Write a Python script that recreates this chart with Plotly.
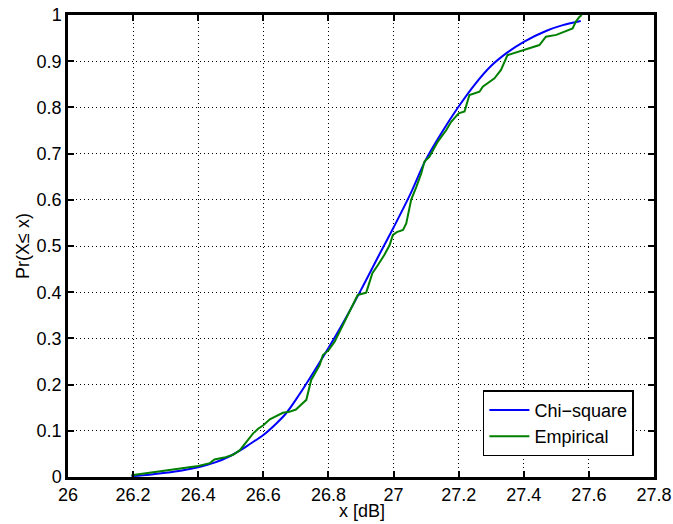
import plotly.graph_objects as go

# Chi-square CDF
chi_x = [26.195, 26.25, 26.3, 26.35, 26.4, 26.45, 26.5, 26.53, 26.56, 26.6, 26.64, 26.67, 26.71, 26.75,
         26.8, 26.85, 26.9, 26.95, 27.0, 27.05, 27.1, 27.15, 27.2, 27.25, 27.3, 27.35, 27.4, 27.47, 27.52, 27.575]
chi_y = [0.002, 0.005, 0.009, 0.014, 0.021, 0.031, 0.046, 0.058, 0.072, 0.091, 0.116, 0.138, 0.178, 0.222,
         0.279, 0.340, 0.405, 0.473, 0.540, 0.610, 0.688, 0.748, 0.802, 0.850, 0.890, 0.919, 0.942, 0.966, 0.978, 0.987]

# Empirical CDF
emp_x = [26.195, 26.25, 26.303, 26.35, 26.4, 26.436, 26.45, 26.48, 26.507, 26.528, 26.548, 26.568, 26.585, 26.6,
         26.62, 26.64, 26.66, 26.68, 26.7, 26.715, 26.732, 26.747, 26.773, 26.783, 26.8, 26.819, 26.84, 26.86,
         26.875, 26.89, 26.916, 26.935, 26.952, 26.972, 26.988, 26.998, 27.01, 27.029, 27.039, 27.054, 27.07,
         27.085, 27.095, 27.11, 27.136, 27.162, 27.177, 27.2, 27.218, 27.233, 27.264, 27.274, 27.31, 27.33,
         27.35, 27.397, 27.417, 27.448, 27.468, 27.5, 27.55, 27.56, 27.57, 27.578]
emp_y = [0.004, 0.009, 0.015, 0.019, 0.024, 0.03, 0.038, 0.042, 0.048, 0.058, 0.076, 0.094, 0.105, 0.112,
         0.125, 0.132, 0.139, 0.141, 0.146, 0.156, 0.167, 0.21, 0.242, 0.264, 0.274, 0.293, 0.322, 0.35,
         0.372, 0.394, 0.399, 0.441, 0.459, 0.481, 0.502, 0.524, 0.53, 0.535, 0.549, 0.6, 0.628,
         0.657, 0.683, 0.693, 0.726, 0.751, 0.769, 0.787, 0.791, 0.827, 0.834, 0.845, 0.863, 0.881,
         0.913, 0.923, 0.928, 0.935, 0.953, 0.957, 0.971, 0.986, 0.995, 1.0]

x_ticks = [26, 26.2, 26.4, 26.6, 26.8, 27, 27.2, 27.4, 27.6, 27.8]
x_labels = ["26", "26.2", "26.4", "26.6", "26.8", "27", "27.2", "27.4", "27.6", "27.8"]
y_ticks = [0, 0.1, 0.2, 0.3, 0.4, 0.5, 0.6, 0.7, 0.8, 0.9, 1]
y_labels = ["0", "0.1", "0.2", "0.3", "0.4", "0.5", "0.6", "0.7", "0.8", "0.9", "1"]
x_title = "x [dB]"
y_title = "Pr(X\u2264 x)"

fig = go.Figure()
fig.add_trace(go.Scatter(x=chi_x, y=chi_y, mode="lines", name="Chi\u2212square",
                         line=dict(color="#0000FF", width=2, shape="spline")))
fig.add_trace(go.Scatter(x=emp_x, y=emp_y, mode="lines", name="Empirical",
                         line=dict(color="#008000", width=2)))

font = dict(family="Liberation Sans, Arial, sans-serif", size=18, color="black")
axis_common = dict(showline=True, linecolor="black", linewidth=2.5, mirror="ticks",
                   ticks="inside", ticklen=6, tickcolor="black", tickwidth=1.5,
                   showgrid=True, gridcolor="black", gridwidth=1.2, griddash="1px,3px",
                   zeroline=False, tickfont=font, automargin=False)

fig.update_layout(
    width=673, height=524,
    margin=dict(l=68, r=19, t=15, b=47),
    paper_bgcolor="white", plot_bgcolor="white",
    font=font,
    xaxis=dict(range=[26, 27.8], tickvals=x_ticks, ticktext=x_labels, **axis_common),
    yaxis=dict(range=[0, 1], tickvals=y_ticks, ticktext=y_labels, **axis_common),
    legend=dict(x=0.708, y=0.045, xanchor="left", yanchor="bottom",
                bgcolor="white", bordercolor="black", borderwidth=1.5,
                font=font, tracegroupgap=0, itemwidth=40),
    showlegend=True,
    annotations=[
        dict(text=x_title, xref="paper", yref="paper", x=0.502, y=0, yshift=-34,
             xanchor="center", yanchor="middle", showarrow=False, font=font),
        dict(text=y_title, xref="paper", yref="paper", x=0, y=0.5, xshift=-45,
             xanchor="center", yanchor="middle", textangle=-90, showarrow=False, font=font),
    ],
)

fig.write_html("out.html", config={"displayModeBar": False},
               post_script="document.body.style.margin='0';document.body.style.overflow='hidden';")
